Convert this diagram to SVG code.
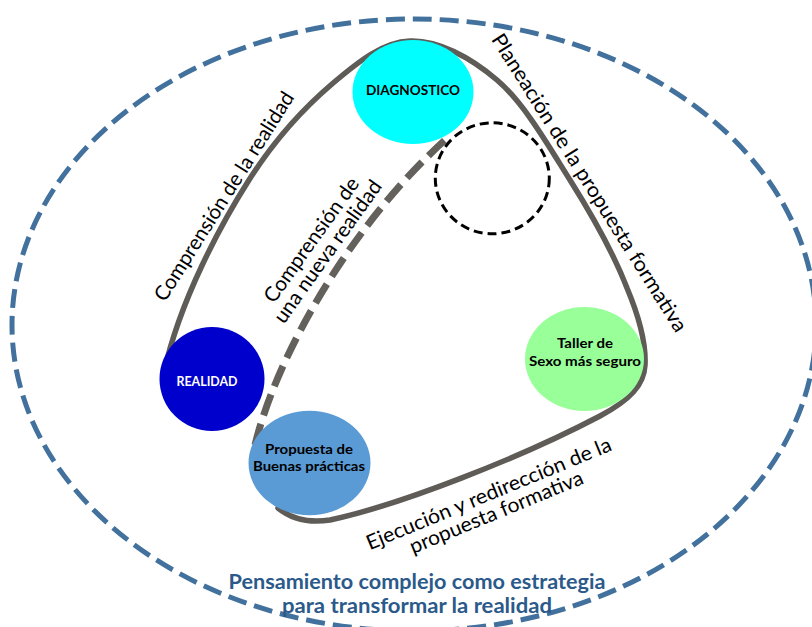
<svg xmlns="http://www.w3.org/2000/svg" width="812" height="627" viewBox="0 0 812 627">
<style>
.lbl{font-family:Lato,"Open Sans","Liberation Sans",sans-serif;font-size:20.5px;fill:#000;text-anchor:middle}
.nd{font-family:Lato,"Open Sans","Liberation Sans",sans-serif;font-size:14px;font-weight:bold;fill:#000;text-anchor:middle}
.ttl{font-family:Lato,"Open Sans","Liberation Sans",sans-serif;font-size:21px;font-weight:bold;fill:#2B5A8A;text-anchor:middle}
.loop{fill:none;stroke:#5F5B57;stroke-width:5.5;stroke-linecap:round}
.dcon{fill:none;stroke:#64605C;stroke-width:7;stroke-dasharray:22 9}
</style>
<rect width="812" height="627" fill="#fff"/>
<g id="frame">
<ellipse cx="414" cy="325" rx="402" ry="306" fill="none" stroke="#41719C" stroke-width="5" stroke-dasharray="19 8"/>
</g>
<g id="connectors">
<path class="loop" d="M 164 372 C 180 300, 221 224, 249 180 C 277 136, 305 107, 332 84 C 359 61, 383 42, 410 41 C 438 40, 470 57, 497 80 C 524 103, 548 145, 570 180 C 592 215, 615 257, 627 288 C 640 319, 646 346, 645 365 C 644 385, 630 400, 600 416 C 520 458, 400 505, 330 520 C 305 524, 288 516, 278 508"/>
<path class="dcon" d="M 255 445 C 276 358, 348 228, 445 140"/>
</g>
<g id="node-diagnostico">
<ellipse cx="413" cy="92" rx="60.5" ry="52" fill="#00FFFF"/>
<text class="nd" x="413" y="95" textLength="94" lengthAdjust="spacingAndGlyphs">DIAGNOSTICO</text>
</g>
<g id="node-realidad">
<ellipse cx="212" cy="379" rx="52.5" ry="52" fill="#0000CC"/>
<text class="nd" x="207" y="386" textLength="61" lengthAdjust="spacingAndGlyphs" style="fill:#fff">REALIDAD</text>
</g>
<g id="node-propuesta">
<ellipse cx="309.5" cy="463" rx="61" ry="52.3" fill="#5B9BD5"/>
<text class="nd" x="309" y="454" textLength="88" lengthAdjust="spacingAndGlyphs">Propuesta de</text>
<text class="nd" x="309" y="470.5" textLength="112" lengthAdjust="spacingAndGlyphs">Buenas prácticas</text>
</g>
<g id="node-taller">
<ellipse cx="584.5" cy="359" rx="59.5" ry="52" fill="#99FF99"/>
<text class="nd" x="585" y="348" textLength="56" lengthAdjust="spacingAndGlyphs">Taller de</text>
<text class="nd" x="585" y="366" textLength="112" lengthAdjust="spacingAndGlyphs">Sexo más seguro</text>
</g>
<g id="node-empty">
<ellipse cx="492.3" cy="178.3" rx="57" ry="55.5" fill="none" stroke="#000" stroke-width="3" stroke-dasharray="9 5"/>
</g>
<g id="labels">
<text class="lbl" transform="translate(230,200) rotate(-57.7)" textLength="243" lengthAdjust="spacingAndGlyphs">Comprensión de la realidad</text>
<g transform="translate(317,244) rotate(-54.5)">
<text class="lbl" x="0" y="0" textLength="148" lengthAdjust="spacingAndGlyphs">Comprensión de</text>
<text class="lbl" x="0" y="20" textLength="170" lengthAdjust="spacingAndGlyphs">una nueva realidad</text>
</g>
<text class="lbl" transform="translate(583.5,186.5) rotate(57.8)" textLength="348" lengthAdjust="spacingAndGlyphs">Planeación de la propuesta formativa</text>
<g transform="translate(491.4,500.1) rotate(-22.4)">
<text class="lbl" x="0" y="0" textLength="263" lengthAdjust="spacingAndGlyphs">Ejecución y redirección de la</text>
<text class="lbl" x="0" y="20" textLength="186" lengthAdjust="spacingAndGlyphs">propuesta formativa</text>
</g>
<text class="ttl" x="417" y="589" textLength="377" lengthAdjust="spacingAndGlyphs">Pensamiento complejo como estrategia</text>
<text class="ttl" x="417" y="613" textLength="270" lengthAdjust="spacingAndGlyphs">para transformar la realidad</text>
</g>
</svg>
